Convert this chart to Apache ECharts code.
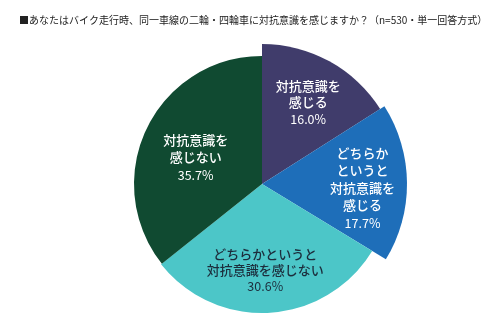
<!DOCTYPE html>
<html><head><meta charset="utf-8">
<script src="https://cdn.jsdelivr.net/npm/echarts@6/dist/echarts.min.js"></script>
<style>html,body{margin:0;padding:0;background:#fff}#c{width:500px;height:324px}</style>
</head><body><div id="c"></div>
<script>
const titleText = '■あなたはバイク走行時、同一車線の二輪・四輪車に対抗意識を感じますか？（n=530・単一回答方式）';
const categories = ['対抗意識を\n感じる', 'どちらか\nというと\n対抗意識を\n感じる', 'どちらかというと\n対抗意識を感じない', '対抗意識を\n感じない'];
const values = [16.0, 17.7, 30.6, 35.7];

const colors = ['#403c6b', '#1e6eb9', '#4cc6c8', '#104a31'];
const labelColors = ['#ffffff', '#ffffff', '#1c2d3c', '#ffffff'];
const radii = [140, 145, 129, 128];
const offsets = [[11, -17], [25, 5], [-1, 19], [-6, 3]];
const lineHeights = [16, 17.5, 16, 17];

const series = categories.map((_, i) => ({
  type: 'pie',
  center: [262, 184],
  radius: [0, radii[i]],
  startAngle: 90,
  clockwise: true,
  silent: true,
  animation: false,
  labelLine: { show: false },
  data: categories.map((name, j) => j === i ? {
    name, value: values[j],
    itemStyle: { color: colors[j], borderWidth: 0 },
    label: {
      show: true, position: 'inside', offset: offsets[j],
      color: labelColors[j], fontSize: 13, lineHeight: lineHeights[j],
      fontFamily: 'Noto Sans CJK JP', align: 'center',
      formatter: p => p.name.split('\n').map(s => '{n|' + s + '}').join('\n') + '\n{p|' + p.value.toFixed(1) + '%}',
      rich: {
        n: { fontSize: 13, fontWeight: 500, lineHeight: lineHeights[j], color: labelColors[j], fontFamily: 'Noto Sans CJK JP' },
        p: { fontSize: 12.5, fontWeight: 'normal', lineHeight: lineHeights[j] + 1, color: labelColors[j], fontFamily: 'Noto Sans CJK JP' }
      }
    }
  } : {
    name, value: values[j],
    itemStyle: { color: 'rgba(0,0,0,0)', borderWidth: 0 },
    label: { show: false }
  })
}));

const chart = echarts.init(document.getElementById('c'), null, { renderer: 'canvas' });
chart.setOption({
  animation: false,
  title: {
    text: titleText, left: 14, top: 10,
    textStyle: { fontSize: 10, fontWeight: 'normal', color: '#222', fontFamily: 'Noto Sans CJK JP' }
  },
  series
});
</script></body></html>
